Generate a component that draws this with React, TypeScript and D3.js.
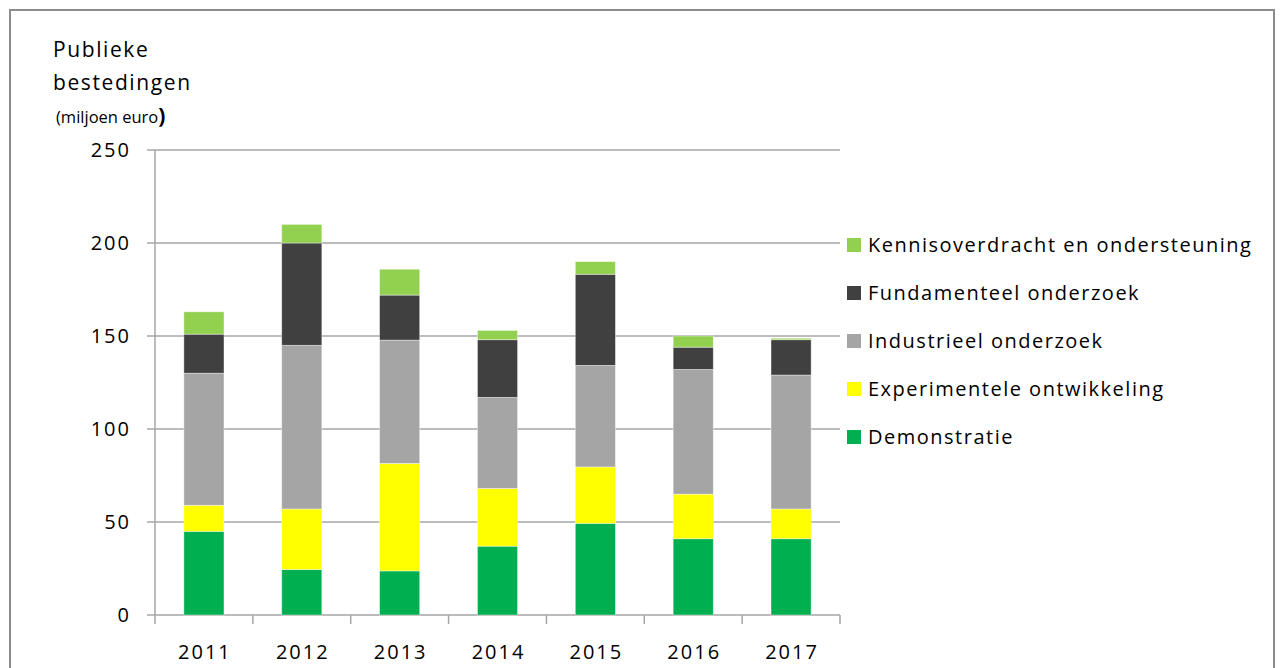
import React from "react";
import * as d3 from "d3";

const years = ["2011", "2012", "2013", "2014", "2015", "2016", "2017"];
const demonstratie = [45, 24.5, 23.7, 37, 49.3, 41, 41];
const experimenteel = [14, 32.5, 57.8, 31, 30.3, 24, 16];
const industrieel = [71, 88, 66.3, 49, 54.6, 67, 72];
const fundamenteel = [21, 55, 24.2, 31, 49, 12, 19];
const kennisoverdracht = [12, 10, 13.9, 5, 6.8, 6, 0.8];
const yTicks = [0, 50, 100, 150, 200, 250];

const seriesNames = [
  "Demonstratie",
  "Experimentele ontwikkeling",
  "Industrieel onderzoek",
  "Fundamenteel onderzoek",
  "Kennisoverdracht en ondersteuning",
];
const seriesColors = ["#00B050", "#FFFF00", "#A5A5A5", "#404040", "#92D050"];

const FONT = "'Open Sans', 'Liberation Sans', sans-serif";

const App = () => {
  const svgRef = React.useRef(null);
  const width = 1280;
  const height = 668;
  const margin = { left: 155, top: 150, right: 440, bottom: 53 };

  React.useEffect(() => {
    const svgEl = d3.select(svgRef.current);
    svgEl.selectAll("*").remove();

    const rows = years.map((y, i) => ({
      year: y,
      s0: demonstratie[i],
      s1: experimenteel[i],
      s2: industrieel[i],
      s3: fundamenteel[i],
      s4: kennisoverdracht[i],
    }));
    const keys = ["s0", "s1", "s2", "s3", "s4"];
    const stacked = d3.stack().keys(keys)(rows);

    const xScale = d3.scaleBand()
      .domain(years)
      .range([margin.left, width - margin.right])
      .paddingInner(0.59)
      .paddingOuter(0.295);
    const yScale = d3.scaleLinear()
      .domain([0, 250])
      .range([height - margin.bottom, margin.top]);

    // outer frame
    svgEl.append("rect")
      .attr("x", 10).attr("y", 10)
      .attr("width", 1264).attr("height", 680)
      .attr("fill", "#fff")
      .attr("stroke", "#8c8c8c")
      .attr("stroke-width", 2);

    // grid lines
    svgEl.append("g")
      .selectAll("line")
      .data(yTicks)
      .enter()
      .append("line")
      .attr("x1", margin.left - 8)
      .attr("x2", width - margin.right)
      .attr("y1", (d) => yScale(d))
      .attr("y2", (d) => yScale(d))
      .attr("stroke", "#a6a6a6")
      .attr("stroke-width", 1.5);

    // y axis line
    svgEl.append("line")
      .attr("x1", margin.left).attr("x2", margin.left)
      .attr("y1", margin.top).attr("y2", height - margin.bottom)
      .attr("stroke", "#a6a6a6").attr("stroke-width", 1.5);

    // x tick marks
    const step = xScale.step();
    const xEdges = d3.range(years.length + 1).map((i) => margin.left + i * step);
    svgEl.append("g")
      .selectAll("line")
      .data(xEdges)
      .enter()
      .append("line")
      .attr("x1", (d) => d).attr("x2", (d) => d)
      .attr("y1", yScale(0)).attr("y2", yScale(0) + 9)
      .attr("stroke", "#a6a6a6").attr("stroke-width", 1.5);

    // y tick labels
    svgEl.append("g")
      .selectAll("text")
      .data(yTicks)
      .enter()
      .append("text")
      .attr("x", 131)
      .attr("y", (d) => yScale(d) + 7)
      .attr("text-anchor", "end")
      .attr("font-family", FONT)
      .attr("font-size", 20)
      .attr("letter-spacing", 2)
      .attr("fill", "#000")
      .text((d) => d);

    // x labels
    svgEl.append("g")
      .selectAll("text")
      .data(years)
      .enter()
      .append("text")
      .attr("x", (d) => xScale(d) + xScale.bandwidth() / 2 + 1)
      .attr("y", 659)
      .attr("text-anchor", "middle")
      .attr("font-family", FONT)
      .attr("font-size", 20)
      .attr("letter-spacing", 2)
      .attr("fill", "#000")
      .text((d) => d);

    // bars
    svgEl.append("g")
      .selectAll("g")
      .data(stacked)
      .enter()
      .append("g")
      .attr("fill", (d, i) => seriesColors[i])
      .selectAll("rect")
      .data((d) => d)
      .enter()
      .append("rect")
      .attr("x", (d) => xScale(d.data.year))
      .attr("width", xScale.bandwidth())
      .attr("y", (d) => yScale(d[1]))
      .attr("height", (d) => yScale(d[0]) - yScale(d[1]))
      .attr("stroke", "#ffffff")
      .attr("stroke-opacity", 0.5)
      .attr("stroke-width", 0.8);

    // legend (top entry = last series)
    const legend = svgEl.append("g");
    const order = [4, 3, 2, 1, 0];
    order.forEach((si, row) => {
      const cy = 245 + row * 48;
      legend.append("rect")
        .attr("x", 847).attr("y", cy - 7)
        .attr("width", 14).attr("height", 14)
        .attr("fill", seriesColors[si]);
      legend.append("text")
        .attr("x", 868).attr("y", cy + 7)
        .attr("font-family", FONT)
        .attr("font-size", 20)
        .attr("letter-spacing", 1.5)
        .attr("fill", "#000")
        .text(seriesNames[si]);
    });

    // title
    const title = svgEl.append("g")
      .attr("font-family", FONT)
      .attr("fill", "#000");
    title.append("text").attr("x", 53).attr("y", 57)
      .attr("font-size", 21).attr("letter-spacing", 1.6).text("Publieke");
    title.append("text").attr("x", 53).attr("y", 90)
      .attr("font-size", 21).attr("letter-spacing", 1.6).text("bestedingen");
    const sub = title.append("text").attr("x", 56).attr("y", 123)
      .attr("font-size", 16.5);
    sub.append("tspan").text("(miljoen euro");
    sub.append("tspan").attr("font-size", 21).attr("font-weight", "bold").text(")");
  }, []);

  return (
    <svg
      ref={svgRef}
      width={width}
      height={height}
      style={{ position: "absolute", left: 0, top: 0, background: "#fff" }}
    />
  );
};

export default App;
